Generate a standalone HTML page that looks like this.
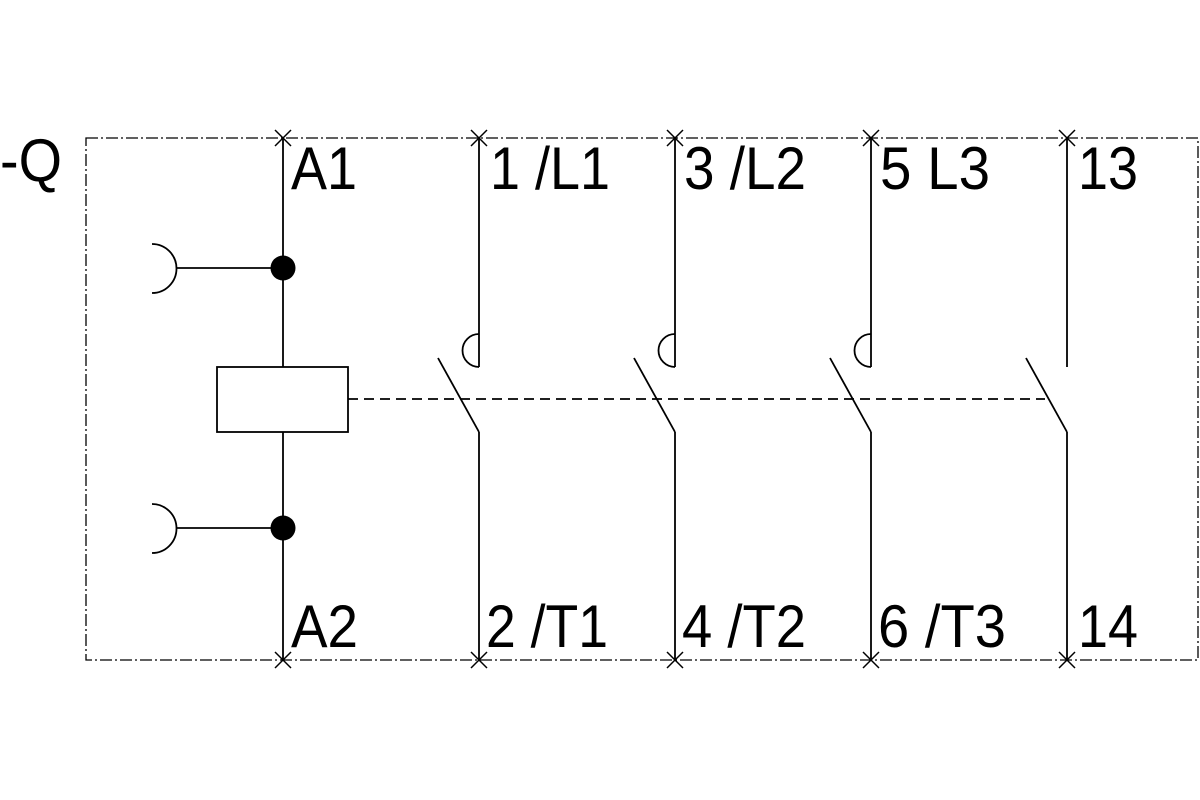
<!DOCTYPE html>
<html><head><style>body{margin:0;background:#fff}svg{display:block}</style></head>
<body>
<svg width="1200" height="800" viewBox="0 0 1200 800" xmlns="http://www.w3.org/2000/svg">
<rect x="86" y="138" width="1112" height="522" fill="none" stroke="#000" stroke-width="1.3" stroke-dasharray="12,3,2,3"/>
<g stroke="#000" stroke-width="1.8" fill="none">
<line x1="283" y1="138" x2="283" y2="367"/>
<line x1="283" y1="432" x2="283" y2="660"/>
<rect x="217" y="367" width="131" height="65"/>
<line x1="177" y1="268" x2="283" y2="268"/>
<line x1="177" y1="528" x2="283" y2="528"/>
<path d="M152,244 A24.5,24.5 0 0 1 152,293"/>
<path d="M152,504 A24.5,24.5 0 0 1 152,553"/>
<line x1="348" y1="399" x2="1045" y2="399" stroke-dasharray="10,6"/>
<g id="c">
<line x1="479" y1="138" x2="479" y2="367"/>
<path d="M479,334 A16.5,16.5 0 0 0 479,367"/>
<line x1="438" y1="358" x2="479" y2="432"/>
<line x1="479" y1="432" x2="479" y2="660"/>
</g>
<use href="#c" x="196"/>
<use href="#c" x="392"/>
<line x1="1067" y1="138" x2="1067" y2="367"/>
<line x1="1026" y1="358" x2="1067" y2="432"/>
<line x1="1067" y1="432" x2="1067" y2="660"/>
</g>
<g stroke="#000" stroke-width="1.5">
<path id="x" d="M275,130 l16,16 M291,130 l-16,16"/>
<use href="#x" x="196"/><use href="#x" x="392"/><use href="#x" x="588"/><use href="#x" x="784"/>
<use href="#x" y="522"/><use href="#x" x="196" y="522"/><use href="#x" x="392" y="522"/><use href="#x" x="588" y="522"/><use href="#x" x="784" y="522"/>
</g>
<circle cx="283" cy="268" r="12.5" fill="#000"/>
<circle cx="283" cy="528" r="12.5" fill="#000"/>
<g font-family="Liberation Sans, sans-serif" font-size="60" fill="#000" lengthAdjust="spacingAndGlyphs">
<text x="0" y="181" textLength="62" lengthAdjust="spacingAndGlyphs">-Q</text>
<text x="291" y="189" textLength="66" lengthAdjust="spacingAndGlyphs">A1</text>
<text x="490" y="189" textLength="120" lengthAdjust="spacingAndGlyphs">1 /L1</text>
<text x="684" y="189" textLength="122" lengthAdjust="spacingAndGlyphs">3 /L2</text>
<text x="880" y="189" textLength="110" lengthAdjust="spacingAndGlyphs">5 L3</text>
<text x="1078" y="189" textLength="60" lengthAdjust="spacingAndGlyphs">13</text>
<text x="291" y="647" textLength="67" lengthAdjust="spacingAndGlyphs">A2</text>
<text x="486" y="647" textLength="122" lengthAdjust="spacingAndGlyphs">2 /T1</text>
<text x="682" y="647" textLength="124" lengthAdjust="spacingAndGlyphs">4 /T2</text>
<text x="878" y="647" textLength="128" lengthAdjust="spacingAndGlyphs">6 /T3</text>
<text x="1078" y="647" textLength="60" lengthAdjust="spacingAndGlyphs">14</text>
</g>
</svg>
</body></html>
